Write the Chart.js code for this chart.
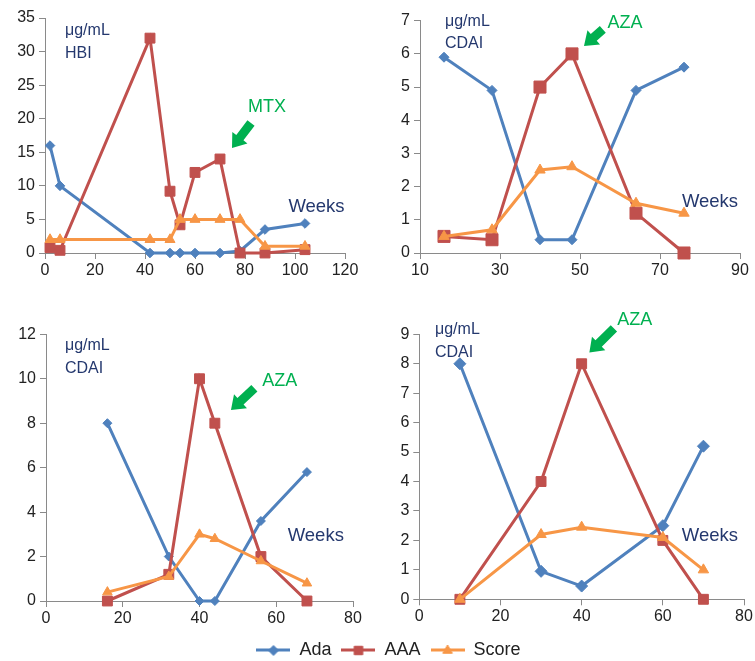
<!DOCTYPE html>
<html>
<head>
<meta charset="utf-8">
<script src="https://cdn.jsdelivr.net/npm/chart.js@4.4.1/dist/chart.umd.min.js"></script>
<style>
html,body{margin:0;padding:0;background:#fff;}
body{width:755px;height:661px;position:relative;overflow:hidden;}
canvas{position:absolute;}
</style>
</head>
<body>
<canvas id="c1" width="365" height="285" style="left:0px;top:0px;width:365px;height:285px"></canvas>
<canvas id="c2" width="380" height="285" style="left:375px;top:0px;width:380px;height:285px"></canvas>
<canvas id="c3" width="375" height="333" style="left:0px;top:300px;width:375px;height:333px"></canvas>
<canvas id="c4" width="380" height="333" style="left:375px;top:300px;width:380px;height:333px"></canvas>
<canvas id="leg" width="755" height="80" style="left:0px;top:631px;width:755px;height:80px"></canvas>
<script>
// ---------- data ----------
const seriesNames = ['Ada', 'AAA', 'Score'];

const p1Weeks = [2, 6, 42, 50, 54, 60, 70, 78, 88, 104];
const p1Ada   = [16, 10, 0, 0, 0, 0, 0, 0.3, 3.5, 4.4];
const p1AAA   = [0.8, 0.4, 32, 9.2, 4.2, 12, 14, 0, 0, 0.5];
const p1Score = [2, 2, 2, 2, 5, 5, 5, 5, 1, 1];
const p1XTicks = [0, 20, 40, 60, 80, 100, 120];
const p1YTicks = [0, 5, 10, 15, 20, 25, 30, 35];

const p2Weeks = [16, 28, 40, 48, 64, 76];
const p2Ada   = [5.9, 4.9, 0.4, 0.4, 4.9, 5.6];
const p2AAA   = [0.5, 0.4, 5, 6, 1.2, 0];
const p2Score = [0.5, 0.7, 2.5, 2.6, 1.5, 1.2];
const p2XTicks = [10, 30, 50, 70, 90];
const p2YTicks = [0, 1, 2, 3, 4, 5, 6, 7];

const p3Weeks = [16, 32, 40, 44, 56, 68];
const p3Ada   = [8, 2, 0, 0, 3.6, 5.8];
const p3AAA   = [0, 1.2, 10, 8, 2, 0];
const p3Score = [0.4, 1.1, 3, 2.8, 1.8, 0.8];
const p3XTicks = [0, 20, 40, 60, 80];
const p3YTicks = [0, 2, 4, 6, 8, 10, 12];

const p4Weeks = [10, 30, 40, 60, 70];
const p4Ada   = [8, 0.95, 0.45, 2.5, 5.2];
const p4AAA   = [0, 4, 8, 2, 0];
const p4Score = [0, 2.2, 2.45, 2.1, 1];
const p4XTicks = [0, 20, 40, 60, 80];
const p4YTicks = [0, 1, 2, 3, 4, 5, 6, 7, 8, 9];

// ---------- styling ----------
const COLORS = { Ada: '#4F81BD', AAA: '#C0504D', Score: '#F79646' };
const STYLES = { Ada: 'rectRot', AAA: 'rect', Score: 'triangle' };
const ORDERS = { Ada: 3, AAA: 2, Score: 1 };
const NAVY = '#24386e';
const GREEN = '#00B050';
const FONT = '"Liberation Sans", Arial, Helvetica, sans-serif';
const TICK_COLOR = '#222';
const AXIS_COLOR = '#8a8a8a';

// ---------- annotations (data coordinates) ----------
const p1Notes = {
  texts: [
    { text: 'μg/mL', x: 8, y: 32.5, align: 'left', size: 16, color: NAVY },
    { text: 'HBI', x: 8, y: 29.04, align: 'left', size: 16, color: NAVY },
    { text: 'MTX', x: 88.8, y: 21.0, align: 'center', size: 18, color: GREEN },
    { text: 'Weeks', x: 108.6, y: 6.1, align: 'center', size: 18.5, color: NAVY }
  ],
  arrows: [{ from: [82.4, 19.36], to: [74.8, 15.64] }]
};
const p2Notes = {
  texts: [
    { text: 'μg/mL', x: 16.25, y: 6.855, align: 'left', size: 16, color: NAVY },
    { text: 'CDAI', x: 16.25, y: 6.168, align: 'left', size: 16, color: NAVY },
    { text: 'AZA', x: 61.25, y: 6.77, align: 'center', size: 18, color: GREEN },
    { text: 'Weeks', x: 82.5, y: 1.395, align: 'center', size: 18.5, color: NAVY }
  ],
  arrows: [{ from: [55.7, 6.74], to: [51.0, 6.24] }]
};
const p3Notes = {
  texts: [
    { text: 'μg/mL', x: 4.94, y: 11.28, align: 'left', size: 16, color: NAVY },
    { text: 'CDAI', x: 4.94, y: 10.24, align: 'left', size: 16, color: NAVY },
    { text: 'AZA', x: 60.9, y: 9.67, align: 'center', size: 18, color: GREEN },
    { text: 'Weeks', x: 70.3, y: 2.70, align: 'center', size: 18.5, color: NAVY }
  ],
  arrows: [{ from: [54.3, 9.57], to: [48.2, 8.59] }]
};
const p4Notes = {
  texts: [
    { text: 'μg/mL', x: 3.87, y: 9.02, align: 'left', size: 16, color: NAVY },
    { text: 'CDAI', x: 3.87, y: 8.24, align: 'left', size: 16, color: NAVY },
    { text: 'AZA', x: 53.1, y: 9.32, align: 'center', size: 18, color: GREEN },
    { text: 'Weeks', x: 71.6, y: 1.99, align: 'center', size: 18.5, color: NAVY }
  ],
  arrows: [{ from: [47.95, 9.2], to: [41.9, 8.38] }]
};

// ---------- helpers ----------
function drawArrow(ctx, x0, y0, x1, y1, shaftW, headW, headL, color) {
  const dx = x1 - x0, dy = y1 - y0, L = Math.hypot(dx, dy);
  const ux = dx / L, uy = dy / L, nx = -uy, ny = ux;
  const bx = x1 - ux * headL, by = y1 - uy * headL;
  ctx.fillStyle = color;
  ctx.beginPath();
  ctx.moveTo(x0 + nx * shaftW / 2, y0 + ny * shaftW / 2);
  ctx.lineTo(bx + nx * shaftW / 2, by + ny * shaftW / 2);
  ctx.lineTo(bx + nx * headW / 2, by + ny * headW / 2);
  ctx.lineTo(x1, y1);
  ctx.lineTo(bx - nx * headW / 2, by - ny * headW / 2);
  ctx.lineTo(bx - nx * shaftW / 2, by - ny * shaftW / 2);
  ctx.lineTo(x0 - nx * shaftW / 2, y0 - ny * shaftW / 2);
  ctx.closePath();
  ctx.fill();
}

function notesPlugin(notes) {
  return {
    id: 'notes',
    afterDraw(chart) {
      const ctx = chart.ctx, xs = chart.scales.x, ys = chart.scales.y;
      ctx.save();
      notes.arrows.forEach(a => {
        drawArrow(ctx, xs.getPixelForValue(a.from[0]), ys.getPixelForValue(a.from[1]),
                  xs.getPixelForValue(a.to[0]), ys.getPixelForValue(a.to[1]), 9, 19, 13, GREEN);
      });
      notes.texts.forEach(t => {
        ctx.font = t.size + 'px ' + FONT;
        ctx.fillStyle = t.color;
        ctx.textAlign = t.align;
        ctx.textBaseline = 'alphabetic';
        ctx.fillText(t.text, xs.getPixelForValue(t.x), ys.getPixelForValue(t.y));
      });
      ctx.restore();
    }
  };
}

function dataset(name, weeks, values, radius) {
  return {
    label: name,
    data: weeks.map((w, i) => ({ x: w, y: values[i] })),
    borderColor: COLORS[name],
    backgroundColor: COLORS[name],
    pointBackgroundColor: COLORS[name],
    pointBorderColor: COLORS[name],
    borderWidth: 3,
    pointStyle: STYLES[name],
    pointRadius: radius,
    pointBorderWidth: 1,
    tension: 0,
    order: ORDERS[name],
    clip: false
  };
}

function axis(ticksArr, isY, fitSize) {
  return {
    type: 'linear',
    min: ticksArr[0],
    max: ticksArr[ticksArr.length - 1],
    afterBuildTicks: s => { s.ticks = ticksArr.map(v => ({ value: v })); },
    afterFit: s => { if (isY) s.width = fitSize; else s.height = fitSize; },
    ticks: {
      color: TICK_COLOR,
      font: { family: FONT, size: 16 },
      padding: isY ? 4 : 2,
      maxRotation: 0,
      autoSkip: false
    },
    grid: { drawOnChartArea: false, drawTicks: true, tickLength: 6, color: AXIS_COLOR, lineWidth: 1 },
    border: { display: true, color: AXIS_COLOR, width: 1 }
  };
}

function makePanel(id, weeks, ada, aaa, score, xTicks, yTicks, padding, radii, notes) {
  return new Chart(document.getElementById(id), {
    type: 'line',
    data: {
      datasets: [
        dataset(seriesNames[0], weeks, ada, radii[0]),
        dataset(seriesNames[1], weeks, aaa, radii[1]),
        dataset(seriesNames[2], weeks, score, radii[2])
      ]
    },
    options: {
      responsive: false,
      animation: false,
      events: [],
      layout: { padding: padding },
      scales: { x: axis(xTicks, false, 32), y: axis(yTicks, true, 40) },
      plugins: { legend: { display: false }, tooltip: { enabled: false } }
    },
    plugins: [notesPlugin(notes)]
  });
}

makePanel('c1', p1Weeks, p1Ada, p1AAA, p1Score, p1XTicks, p1YTicks,
  { left: 5, right: 20, top: 18, bottom: 0 }, [4.8, 7, 5.8], p1Notes);
makePanel('c2', p2Weeks, p2Ada, p2AAA, p2Score, p2XTicks, p2YTicks,
  { left: 5, right: 15, top: 20.7, bottom: 0 }, [5, 8.5, 6], p2Notes);
makePanel('c3', p3Weeks, p3Ada, p3AAA, p3Score, p3XTicks, p3YTicks,
  { left: 6, right: 22, top: 34.3, bottom: 0 }, [4.5, 7, 5.5], p3Notes);
makePanel('c4', p4Weeks, p4Ada, p4AAA, p4Score, p4XTicks, p4YTicks,
  { left: 4.3, right: 11, top: 34.3, bottom: 1.7 }, [6, 7, 6], p4Notes);

// ---------- shared legend ----------
function legendIcon(name) {
  const c = document.createElement('canvas');
  c.width = 34; c.height = 16;
  const g = c.getContext('2d');
  g.strokeStyle = COLORS[name];
  g.fillStyle = COLORS[name];
  g.lineWidth = 3;
  g.beginPath(); g.moveTo(0, 8); g.lineTo(34, 8); g.stroke();
  g.lineWidth = 1;
  const r = name === 'Ada' ? 5 : (name === 'AAA' ? 6 : 5.5);
  Chart.helpers.drawPoint(g, { pointStyle: STYLES[name], radius: r, borderWidth: 1, rotation: 0 }, 17, 8.5);
  return c;
}

new Chart(document.getElementById('leg'), {
  type: 'line',
  data: {
    datasets: seriesNames.map(n => ({
      label: n, data: [], borderColor: COLORS[n], backgroundColor: COLORS[n],
      pointStyle: legendIcon(n)
    }))
  },
  options: {
    responsive: false,
    animation: false,
    events: [],
    layout: { padding: { left: 22, top: 0 } },
    scales: { x: { display: false }, y: { display: false } },
    plugins: {
      tooltip: { enabled: false },
      legend: {
        display: true,
        position: 'top',
        labels: {
          usePointStyle: true,
          pointStyleWidth: 34,
          boxHeight: 16,
          color: '#222',
          font: { family: FONT, size: 18 },
          padding: 10
        }
      }
    }
  }
});
</script>
</body>
</html>
